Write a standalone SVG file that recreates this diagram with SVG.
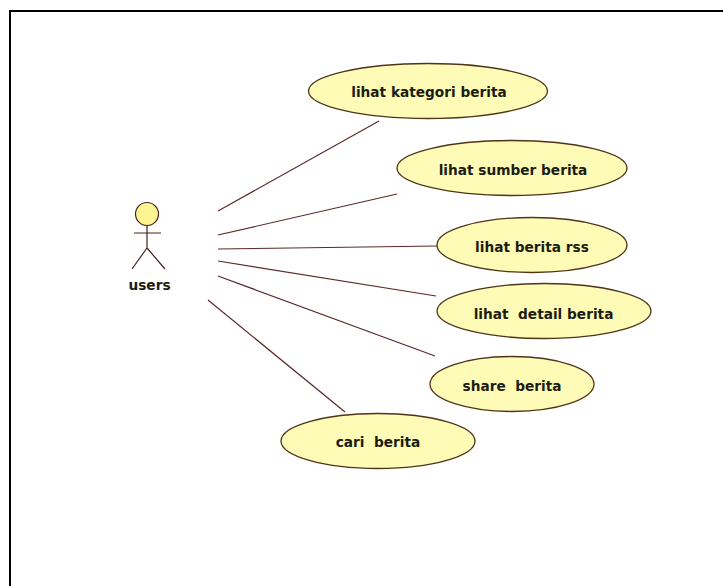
<svg xmlns="http://www.w3.org/2000/svg" width="723" height="586" viewBox="0 0 723 586">
<style>
.uc ellipse{fill:#fdfbb6;stroke:#4f3418;stroke-width:1.3}
text{font-family:"DejaVu Sans",sans-serif;font-weight:700;font-size:13.7px;fill:#1c1c10;text-anchor:middle}
.c line{stroke:#5a2a2a;stroke-width:1.2}
.a{fill:none;stroke:#4a2020;stroke-width:1.2}
</style>
<rect width="723" height="586" fill="#fff"/>
<path d="M10 586V11H723" fill="none" stroke="#000" stroke-width="2"/>
<g class="c" id="connectors">
<line x1="218" y1="211" x2="379" y2="121"/>
<line x1="218" y1="235" x2="397" y2="194"/>
<line x1="218" y1="249" x2="437" y2="246"/>
<line x1="218" y1="261" x2="436" y2="296"/>
<line x1="218" y1="276" x2="435" y2="356"/>
<line x1="208" y1="300" x2="345" y2="412"/>
</g>
<g id="actor-users">
<circle class="a" cx="147" cy="214" r="11.5" style="fill:#fdf58f"/>
<path class="a" d="M147 225V248M134 233H161M147 248L132 269M147 248L165 269"/>
<text x="149.500" y="290">users</text>
</g>
<g class="uc" id="uc-kategori"><ellipse cx="428" cy="91" rx="119.500" ry="27.500"/><text x="429" y="97">lihat kategori berita</text></g>
<g class="uc" id="uc-sumber"><ellipse cx="512" cy="168" rx="115" ry="27.500"/><text x="513" y="175">lihat sumber berita</text></g>
<g class="uc" id="uc-rss"><ellipse cx="532" cy="245" rx="95" ry="27.500"/><text x="532" y="252">lihat berita rss</text></g>
<g class="uc" id="uc-detail"><ellipse cx="544" cy="311" rx="107" ry="27.500"/><text x="543.500" y="319" xml:space="preserve">lihat  detail berita</text></g>
<g class="uc" id="uc-share"><ellipse cx="512" cy="384" rx="82" ry="27.500"/><text x="512" y="391" xml:space="preserve">share  berita</text></g>
<g class="uc" id="uc-cari"><ellipse cx="378" cy="441" rx="97" ry="27.500"/><text x="378" y="447" xml:space="preserve">cari  berita</text></g>
</svg>
